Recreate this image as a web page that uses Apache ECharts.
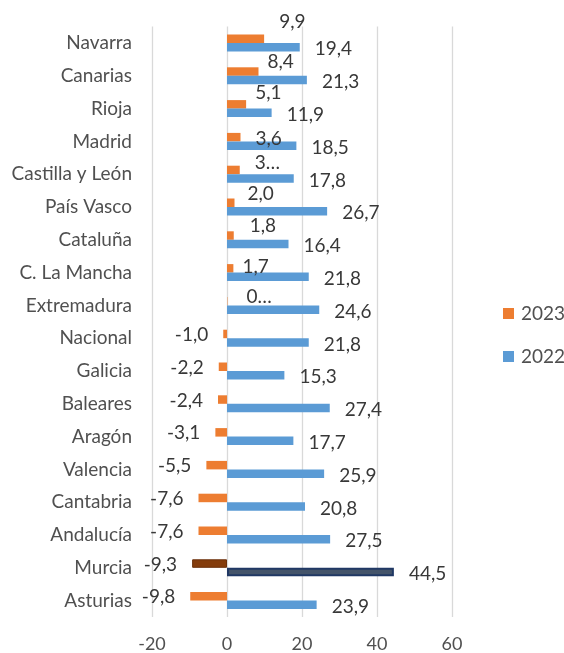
<!DOCTYPE html>
<html>
<head>
<meta charset="utf-8">
<script src="https://cdn.jsdelivr.net/npm/echarts@6/dist/echarts.min.js"></script>
<style>
html,body{margin:0;padding:0;background:#fff;}
#chart{width:564px;height:653px;}
</style>
</head>
<body>
<div id="chart"></div>
<script>
const categories = ["Navarra","Canarias","Rioja","Madrid","Castilla y León","País Vasco","Cataluña","C. La Mancha","Extremadura","Nacional","Galicia","Baleares","Aragón","Valencia","Cantabria","Andalucía","Murcia","Asturias"];
const values2023 = [9.9, 8.4, 5.1, 3.6, 3.4, 2.0, 1.8, 1.7, 0.1, -1.0, -2.2, -2.4, -3.1, -5.5, -7.6, -7.6, -9.3, -9.8];
const values2022 = [19.4, 21.3, 11.9, 18.5, 17.8, 26.7, 16.4, 21.8, 24.6, 21.8, 15.3, 27.4, 17.7, 25.9, 20.8, 27.5, 44.5, 23.9];
const labels2023 = ["9,9","8,4","5,1","3,6","3…","2,0","1,8","1,7","0…","-1,0","-2,2","-2,4","-3,1","-5,5","-7,6","-7,6","-9,3","-9,8"];
const xTicks = [-20, 0, 20, 40, 60];
const highlightCategory = "Murcia";

// label nudges (style only) for the 2023 labels, as placed in the original
const labelNudge2023 = [[0,-17],[-6,-10],[-6,-11],[0,2],[0,-7],[-2,-9],[1,-10],[-6,-1],[4,-4]];

const FONT = 'Lato';
const fmt = v => v.toFixed(1).replace('.', ',');

const data2023 = values2023.map((v, i) => {
  const item = {
    value: v,
    label: {
      position: v >= 0 ? 'right' : 'left',
      offset: labelNudge2023[i] || [0, 1],
      formatter: () => labels2023[i]
    }
  };
  if (categories[i] === highlightCategory) {
    item.itemStyle = { color: '#843c0c', borderColor: '#6b300a', borderWidth: 1 };
  }
  return item;
});

const data2022 = values2022.map((v, i) => {
  const item = { value: v };
  if (categories[i] === highlightCategory) {
    item.itemStyle = { color: '#44546a', borderColor: '#203864', borderWidth: 2 };
  }
  return item;
});

const chart = echarts.init(document.getElementById('chart'), null, { renderer: 'canvas' });
chart.setOption({
  animation: false,
  backgroundColor: '#ffffff',
  textStyle: { fontFamily: FONT },
  grid: { left: 152, right: 112, top: 26.6, bottom: 35.6, containLabel: false },
  legend: {
    orient: 'vertical',
    left: 503,
    top: 304,
    padding: 0,
    itemWidth: 11,
    itemHeight: 11,
    itemGap: 24,
    icon: 'rect',
    data: ['2023', '2022'],
    textStyle: { fontFamily: FONT, fontSize: 19, color: '#505050', padding: [0,0,0,2] }
  },
  xAxis: {
    type: 'value',
    min: xTicks[0],
    max: xTicks[xTicks.length - 1],
    interval: 20,
    axisLine: { show: false },
    axisTick: { show: false },
    splitLine: { show: true, showMinLine: true, showMaxLine: true, lineStyle: { color: '#d9d9d9', width: 1.3 } },
    axisLabel: { fontFamily: FONT, fontSize: 18, color: '#505050', margin: 18 }
  },
  yAxis: {
    type: 'category',
    inverse: true,
    data: categories,
    axisLine: { show: false },
    axisTick: { show: false },
    axisLabel: { fontFamily: FONT, fontSize: 19, color: '#505050', margin: 20 }
  },
  series: [
    {
      name: '2023',
      type: 'bar',
      data: data2023,
      barWidth: 8.5,
      barGap: '0%',
      itemStyle: { color: '#ed7d31' },
      label: { show: true, distance: 15, fontFamily: FONT, fontSize: 19, color: '#383838' }
    },
    {
      name: '2022',
      type: 'bar',
      data: data2022,
      barWidth: 8.5,
      barGap: '0%',
      itemStyle: { color: '#5b9bd5' },
      label: { show: true, position: 'right', distance: 15, offset: [0, 2], fontFamily: FONT, fontSize: 19, color: '#383838', formatter: p => fmt(p.value) }
    }
  ]
});
</script>
</body>
</html>
